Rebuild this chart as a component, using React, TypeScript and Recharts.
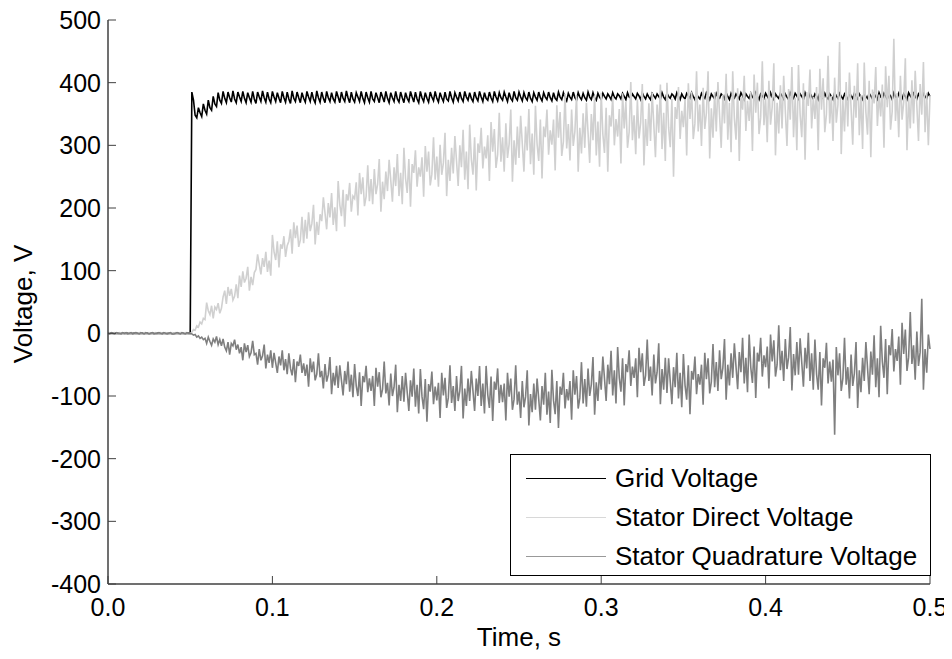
import { LineChart, Line, XAxis, YAxis } from 'recharts'

// sample times in ms (1 ms step)
const timeMs = [
  0, 1, 2, 3, 4, 5, 6, 7, 8, 9, 10, 11, 12, 13, 14, 15, 16, 17, 18, 19,
  20, 21, 22, 23, 24, 25, 26, 27, 28, 29, 30, 31, 32, 33, 34, 35, 36, 37, 38, 39,
  40, 41, 42, 43, 44, 45, 46, 47, 48, 49, 50, 51, 52, 53, 54, 55, 56, 57, 58, 59,
  60, 61, 62, 63, 64, 65, 66, 67, 68, 69, 70, 71, 72, 73, 74, 75, 76, 77, 78, 79,
  80, 81, 82, 83, 84, 85, 86, 87, 88, 89, 90, 91, 92, 93, 94, 95, 96, 97, 98, 99,
  100, 101, 102, 103, 104, 105, 106, 107, 108, 109, 110, 111, 112, 113, 114, 115, 116, 117, 118, 119,
  120, 121, 122, 123, 124, 125, 126, 127, 128, 129, 130, 131, 132, 133, 134, 135, 136, 137, 138, 139,
  140, 141, 142, 143, 144, 145, 146, 147, 148, 149, 150, 151, 152, 153, 154, 155, 156, 157, 158, 159,
  160, 161, 162, 163, 164, 165, 166, 167, 168, 169, 170, 171, 172, 173, 174, 175, 176, 177, 178, 179,
  180, 181, 182, 183, 184, 185, 186, 187, 188, 189, 190, 191, 192, 193, 194, 195, 196, 197, 198, 199,
  200, 201, 202, 203, 204, 205, 206, 207, 208, 209, 210, 211, 212, 213, 214, 215, 216, 217, 218, 219,
  220, 221, 222, 223, 224, 225, 226, 227, 228, 229, 230, 231, 232, 233, 234, 235, 236, 237, 238, 239,
  240, 241, 242, 243, 244, 245, 246, 247, 248, 249, 250, 251, 252, 253, 254, 255, 256, 257, 258, 259,
  260, 261, 262, 263, 264, 265, 266, 267, 268, 269, 270, 271, 272, 273, 274, 275, 276, 277, 278, 279,
  280, 281, 282, 283, 284, 285, 286, 287, 288, 289, 290, 291, 292, 293, 294, 295, 296, 297, 298, 299,
  300, 301, 302, 303, 304, 305, 306, 307, 308, 309, 310, 311, 312, 313, 314, 315, 316, 317, 318, 319,
  320, 321, 322, 323, 324, 325, 326, 327, 328, 329, 330, 331, 332, 333, 334, 335, 336, 337, 338, 339,
  340, 341, 342, 343, 344, 345, 346, 347, 348, 349, 350, 351, 352, 353, 354, 355, 356, 357, 358, 359,
  360, 361, 362, 363, 364, 365, 366, 367, 368, 369, 370, 371, 372, 373, 374, 375, 376, 377, 378, 379,
  380, 381, 382, 383, 384, 385, 386, 387, 388, 389, 390, 391, 392, 393, 394, 395, 396, 397, 398, 399,
  400, 401, 402, 403, 404, 405, 406, 407, 408, 409, 410, 411, 412, 413, 414, 415, 416, 417, 418, 419,
  420, 421, 422, 423, 424, 425, 426, 427, 428, 429, 430, 431, 432, 433, 434, 435, 436, 437, 438, 439,
  440, 441, 442, 443, 444, 445, 446, 447, 448, 449, 450, 451, 452, 453, 454, 455, 456, 457, 458, 459,
  460, 461, 462, 463, 464, 465, 466, 467, 468, 469, 470, 471, 472, 473, 474, 475, 476, 477, 478, 479,
  480, 481, 482, 483, 484, 485, 486, 487, 488, 489, 490, 491, 492, 493, 494, 495, 496, 497, 498, 499,
  500,
]

const gridVoltage = [
  0, 0, 0, 0, 0, 0, 0, 0, 0, 0,
  0, 0, 0, 0, 0, 0, 0, 0, 0, 0,
  0, 0, 0, 0, 0, 0, 0, 0, 0, 0,
  0, 0, 0, 0, 0, 0, 0, 0, 0, 0,
  0, 0, 0, 0, 0, 0, 0, 0, 0, 0,
  0, 385, 372, 348, 344, 360, 352, 346, 366, 356,
  350, 372, 360, 356, 378, 366, 362, 384, 372, 367,
  386, 375, 368, 385, 376, 369, 387, 374, 368, 385, 377, 370,
  386, 375, 368, 384, 376, 369, 386, 374, 367, 385, 377, 370,
  387, 376, 369, 385, 374, 368, 386, 377, 370, 384, 375, 368,
  386, 376, 369, 385, 374, 367, 387, 375, 370, 385, 376, 368,
  384, 375, 369, 386, 377, 370, 385, 374, 368, 387, 376, 369,
  385, 375, 368, 386, 376, 370, 384, 374, 369, 386, 377, 368,
  385, 375, 370, 387, 376, 368, 385, 374, 369, 384, 377, 370,
  386, 375, 368, 385, 376, 369, 386, 374, 370, 384, 376, 368,
  385, 377, 369, 386, 375, 368, 384, 376, 370, 386, 374, 369,
  385, 376, 368, 384, 375, 370, 386, 377, 369, 385, 374, 368,
  386, 376, 370, 384, 375, 369, 385, 377, 371, 386, 375, 369,
  384, 376, 370, 385, 374, 371, 386, 376, 369, 384, 377, 371,
  385, 375, 370, 386, 377, 372, 384, 375, 370, 385, 376, 371,
  386, 377, 370, 384, 375, 372, 385, 376, 370, 386, 377, 371,
  384, 376, 372, 385, 377, 370, 384, 375, 371, 386, 376, 372,
  385, 377, 371, 384, 376, 372, 385, 375, 370, 384, 377, 372,
  385, 376, 371, 384, 377, 373, 385, 376, 371, 384, 375, 372,
  385, 377, 373, 384, 376, 371, 383, 377, 373, 385, 376, 372,
  384, 377, 373, 383, 376, 372, 385, 377, 373, 384, 376, 372,
  383, 377, 373,
  383, 378, 374, 382, 378, 373, 384, 377, 374, 382, 379, 374,
  383, 378, 373, 384, 377, 375, 382, 378, 374, 383, 379, 373,
  384, 378, 374, 382, 377, 373, 383, 379, 375, 382, 378, 374,
  384, 377, 373, 383, 378, 375, 382, 379, 374, 384, 378, 373,
  382, 377, 374, 383, 379, 375, 384, 378, 373, 382, 377, 374,
  383, 378, 375, 384, 379, 373, 382, 378, 374, 383, 377, 375,
  382, 379, 374, 384, 378, 373, 383, 377, 375, 382, 378, 374,
  384, 379, 373, 382, 378, 375, 383, 377, 374, 384, 378, 373,
  382, 379, 375, 383, 378, 374, 384, 377, 373, 382, 378, 375,
  383, 379, 374, 382, 377, 373, 384, 378, 375, 383, 379, 374,
  382, 378, 373, 384, 377, 375, 383, 378, 374, 382, 379, 373,
  384, 378, 375, 383, 377, 374, 382, 378, 373, 384, 379, 375,
  383, 378, 374, 382, 377, 373, 384, 379, 375, 383, 378, 374,
  382, 377, 373, 384, 378, 375, 383, 379, 374, 382, 378, 373,
  384, 377, 375, 383, 378, 374, 382, 379, 373, 384, 378, 375,
  383, 377, 374, 382, 378, 373, 384, 379, 375, 383, 378, 374,
  382, 377, 373, 384, 378, 375, 383, 378,
]

const statorDirect = [
  0, 1, -1, 0, 1, 0, -1, 1, 0, -1,
  1, 0, -1, 1, 0, 0, -1, 1, 0, 1,
  0, -1, 1, 0, -1, 1, 0, -1, 0, 1,
  -1, 0, 1, 0, -1, 1, 0, 0, -1, 1,
  0, 1, -1, 0, 1, -1, 0, 1, 0, -1,
  0, 2, 6, 5, 12, 10, 18, 15, 24, 22,
  49, 36, 30, 44, 24, 42, 38, 48, 32, 40,
  58, 68, 47, 74, 60, 71, 53, 59, 78, 56,
  92, 74, 99, 81, 88, 106, 68, 90, 77, 97,
  102, 126, 110, 94, 120, 106, 130, 98, 116, 92,
  157, 130, 117, 147, 105, 142, 135, 155, 122, 140,
  147, 166, 127, 177, 152, 172, 138, 149, 186, 144,
  181, 151, 193, 163, 175, 205, 142, 178, 157, 190,
  179, 217, 192, 166, 208, 185, 224, 173, 201, 163,
  243, 205, 187, 229, 170, 222, 212, 240, 194, 219,
  215, 241, 188, 256, 222, 249, 203, 218, 268, 211,
  246, 206, 262, 222, 238, 278, 194, 242, 214, 258,
  227, 277, 244, 210, 265, 235, 286, 219, 256, 206,
  296, 247, 224, 278, 202, 270, 256, 292, 234, 265,
  250, 281, 218, 299, 258, 290, 236, 254, 313, 245,
  282, 234, 301, 253, 272, 320, 219, 277, 243, 296,
  255, 315, 275, 235, 300, 265, 325, 245, 290, 230,
  333, 278, 253, 313, 228, 303, 288, 328, 263, 298,
  279, 316, 243, 337, 290, 326, 264, 285, 352, 274,
  313, 258, 335, 280, 302, 357, 242, 308, 269, 330,
  280, 347, 303, 258, 330, 292, 358, 270, 319, 253,
  363, 302, 275, 341, 247, 330, 313, 357, 285, 324,
  301, 341, 260, 364, 312, 353, 283, 306, 382, 295,
  334, 276, 357, 299, 322, 380, 258, 328, 287, 351,
  296, 368, 320, 272, 350, 308, 380, 284, 338, 266,
  384, 318, 288, 360, 258, 348, 330, 378, 300, 342,
  314, 358, 271, 383, 327, 370, 296, 321, 401, 308,
  348, 286, 373, 311, 336, 398, 268, 342, 299, 367,
  307, 384, 333, 281, 365, 320, 397, 294, 352, 275,
  400, 329, 297, 374, 250, 361, 342, 393, 310, 355,
  329, 374, 284, 399, 342, 386, 310, 335, 418, 322,
  365, 299, 392, 326, 352, 418, 279, 359, 312, 385,
  322, 401, 348, 296, 381, 335, 414, 309, 368, 289,
  418, 343, 309, 391, 275, 377, 357, 411, 323, 371,
  339, 386, 291, 413, 352, 400, 318, 345, 434, 332,
  375, 305, 403, 333, 361, 431, 284, 368, 319, 396,
  327, 411, 355, 299, 390, 341, 425, 313, 376, 292,
  428, 349, 313, 399, 277, 385, 363, 421, 327, 377,
  342, 393, 292, 422, 357, 407, 321, 350, 443, 335,
  379, 307, 408, 336, 365, 465, 286, 372, 322, 401,
  330, 416, 359, 301, 395, 344, 431, 316, 380, 294,
  432, 353, 317, 403, 281, 389, 367, 425, 331, 381,
  346, 397, 296, 426, 361, 411, 325, 354, 470, 339,
  383, 313, 411, 341, 369, 439, 292, 376, 327, 404,
  335, 419, 363, 307, 398, 349, 433, 321, 384, 300,
  380,
]

const statorQuadrature = [
  0, -1, 1, 0, -1, 1, 0, 0, -1, 1,
  0, 1, -1, 0, 1, -1, 0, 1, 0, -1,
  1, 0, -1, 1, 0, -1, 0, 1, -1, 0,
  0, 1, 0, -1, 1, 0, -1, 0, 1, -1,
  -1, 0, 1, 0, -1, 1, 0, -1, 1, 0,
  0, -1, -3, -2, -6, -4, -8, -6, -10, -8,
  -16, -6, -13, -19, -9, -14, -5, -18, -10, -20,
  -9, -22, -28, -14, -34, -16, -20, -10, -26, -18,
  -32, -22, -43, -16, -30, -19, -37, -31, -12, -34,
  -32, -50, -25, -43, -36, -18, -56, -34, -47, -27,
  -55, -31, -47, -63, -37, -51, -27, -59, -41, -65,
  -32, -56, -67, -41, -78, -45, -52, -34, -63, -48,
  -68, -50, -85, -40, -62, -45, -75, -65, -32, -70,
  -60, -88, -49, -77, -66, -38, -97, -63, -83, -52,
  -87, -51, -75, -99, -60, -81, -45, -93, -66, -102,
  -49, -84, -100, -62, -116, -68, -78, -52, -94, -72,
  -92, -68, -116, -55, -85, -62, -102, -89, -45, -96,
  -79, -115, -64, -100, -86, -50, -126, -82, -108, -68,
  -109, -63, -94, -124, -75, -101, -56, -117, -82, -128,
  -57, -101, -121, -73, -141, -81, -93, -61, -113, -85,
  -107, -79, -135, -63, -99, -71, -119, -103, -51, -111,
  -84, -124, -68, -108, -92, -52, -136, -88, -116, -72,
  -108, -60, -92, -124, -72, -100, -52, -116, -80, -128,
  -52, -98, -119, -69, -140, -77, -90, -56, -111, -82,
  -110, -80, -139, -63, -101, -72, -122, -105, -51, -114,
  -93, -135, -76, -118, -101, -59, -147, -97, -126, -80,
  -122, -72, -105, -139, -84, -114, -63, -130, -93, -143,
  -58, -107, -129, -76, -151, -85, -98, -63, -120, -89,
  -107, -76, -138, -59, -98, -68, -120, -103, -46, -112,
  -73, -117, -56, -100, -82, -38, -130, -78, -108, -60,
  -90, -37, -72, -108, -50, -81, -28, -99, -59, -112,
  -22, -71, -93, -40, -115, -49, -62, -27, -84, -53,
  -71, -40, -102, -23, -62, -32, -84, -67, -10, -76,
  -53, -99, -34, -80, -62, -16, -113, -57, -90, -39,
  -95, -40, -77, -113, -54, -86, -31, -104, -63, -118,
  -33, -83, -106, -51, -129, -60, -74, -37, -97, -65,
  -82, -50, -114, -31, -73, -40, -96, -77, -17, -86,
  -46, -92, -27, -73, -55, -9, -106, -50, -83, -32,
  -71, -16, -53, -89, -30, -62, -7, -80, -39, -94,
  -2, -55, -79, -21, -103, -31, -45, -7, -69, -35,
  -54, -21, -88, -2, -45, -11, -69, -50, 13, -59,
  -28, -76, -9, -57, -38, 10, -91, -33, -67, -14,
  -66, -8, -47, -85, -23, -56, 1, -76, -32, -90,
  -10, -65, -90, -30, -115, -40, -55, -15, -80, -45,
  -77, -42, -162, -22, -67, -32, -92, -72, -7, -82,
  -54, -104, -34, -84, -64, -14, -119, -59, -94, -39,
  -76, -14, -55, -97, -29, -66, -3, -86, -40, -102,
  12, -45, -71, -9, -97, -19, -35, 7, -61, -25,
  -44, -5, -82, 17, -33, 6, -60, -38, 34, -49,
  -19, -74, 3, -52, -30, 55, -90, -25, -63, -2,
  -25,
]

const xTicks = [0, 0.1, 0.2, 0.3, 0.4, 0.5]
const yTicks = [-400, -300, -200, -100, 0, 100, 200, 300, 400, 500]

const series = [
  { key: 'grid', name: 'Grid Voltage', color: '#000000', legendColor: '#000000', width: 1.6 },
  { key: 'direct', name: 'Stator Direct Voltage', color: '#d0d0d0', legendColor: '#d8d8d8', width: 1.6 },
  { key: 'quad', name: 'Stator Quadrature Voltage', color: '#7f7f7f', legendColor: '#999999', width: 1.6 },
]

const data = timeMs.map((ms, i) => ({
  t: ms / 1000,
  grid: gridVoltage[i],
  direct: statorDirect[i],
  quad: statorQuadrature[i],
}))

const FONT = '"Liberation Sans", Arial, Helvetica, sans-serif'
const W = 936
const H = 643
const PLOT_LEFT = 100
const PLOT_TOP = 12
const PLOT_RIGHT = 922
const PLOT_BOTTOM = 576
const AXIS = '#404040'

function XTick({ x, payload }: { x?: number; payload?: { value: number } }) {
  if (!payload || x === undefined) return null
  return (
    <g>
      <line x1={x} x2={x} y1={PLOT_BOTTOM} y2={PLOT_BOTTOM - 8} stroke={AXIS} />
      <text x={x} y={PLOT_BOTTOM + 23} textAnchor="middle" dominantBaseline="central" fontSize={25} fontFamily={FONT} fill="#000">
        {payload.value.toFixed(1)}
      </text>
    </g>
  )
}

function YTick({ y, payload }: { y?: number; payload?: { value: number } }) {
  if (!payload || y === undefined) return null
  return (
    <g>
      <line x1={PLOT_LEFT} x2={PLOT_LEFT + 8} y1={y} y2={y} stroke={AXIS} />
      <text x={PLOT_LEFT - 7} y={y} textAnchor="end" dominantBaseline="central" fontSize={25} fontFamily={FONT} fill="#000">
        {payload.value}
      </text>
    </g>
  )
}

function LegendBox() {
  return (
    <div
      style={{
        position: 'absolute',
        left: 502,
        top: 446,
        width: 421,
        height: 122,
        boxSizing: 'border-box',
        border: '1px solid #000',
        background: '#fff',
        fontFamily: FONT,
        fontSize: 26,
        color: '#000',
      }}
    >
      {series.map((s, i) => (
        <div key={s.key} style={{ position: 'absolute', left: 0, top: 4 + i * 39, height: 39, width: '100%' }}>
          <div style={{ position: 'absolute', left: 15, top: 19, width: 80, borderTop: `1.5px solid ${s.legendColor}` }} />
          <div style={{ position: 'absolute', left: 104, top: 0, lineHeight: '39px', whiteSpace: 'nowrap' }}>{s.name}</div>
        </div>
      ))}
    </div>
  )
}

export default function App() {
  return (
    <div style={{ position: 'relative', width: W, height: H }}>
      <style>{'.recharts-surface { overflow: visible; }'}</style>
      <LineChart width={W} height={H} data={data} margin={{ top: PLOT_TOP, right: W - PLOT_RIGHT, bottom: 0, left: 0 }}>
        <XAxis
          dataKey="t"
          type="number"
          domain={[0, 0.5]}
          ticks={xTicks}
          tick={<XTick />}
          tickLine={false}
          axisLine={{ stroke: AXIS, strokeWidth: 1.5 }}
          height={H - PLOT_BOTTOM}
          label={{
            content: () => (
              <text x={(PLOT_LEFT + PLOT_RIGHT) / 2} y={638} textAnchor="middle" fontSize={26} fontFamily={FONT} fill="#000">
                Time, s
              </text>
            ),
          }}
        />
        <YAxis
          type="number"
          domain={[-400, 500]}
          ticks={yTicks}
          tick={<YTick />}
          tickLine={false}
          axisLine={{ stroke: AXIS, strokeWidth: 1.5 }}
          width={PLOT_LEFT}
          label={{
            content: () => (
              <text
                x={15}
                y={296}
                transform="rotate(-90, 15, 296)"
                textAnchor="middle"
                dominantBaseline="central"
                fontSize={26}
                fontFamily={FONT}
                fill="#000"
              >
                Voltage, V
              </text>
            ),
          }}
        />
        {series.map((s) => (
          <Line
            key={s.key}
            type="linear"
            dataKey={s.key}
            name={s.name}
            stroke={s.color}
            strokeWidth={s.width}
            dot={false}
            activeDot={false}
            isAnimationActive={false}
          />
        ))}
      </LineChart>
      <LegendBox />
    </div>
  )
}
